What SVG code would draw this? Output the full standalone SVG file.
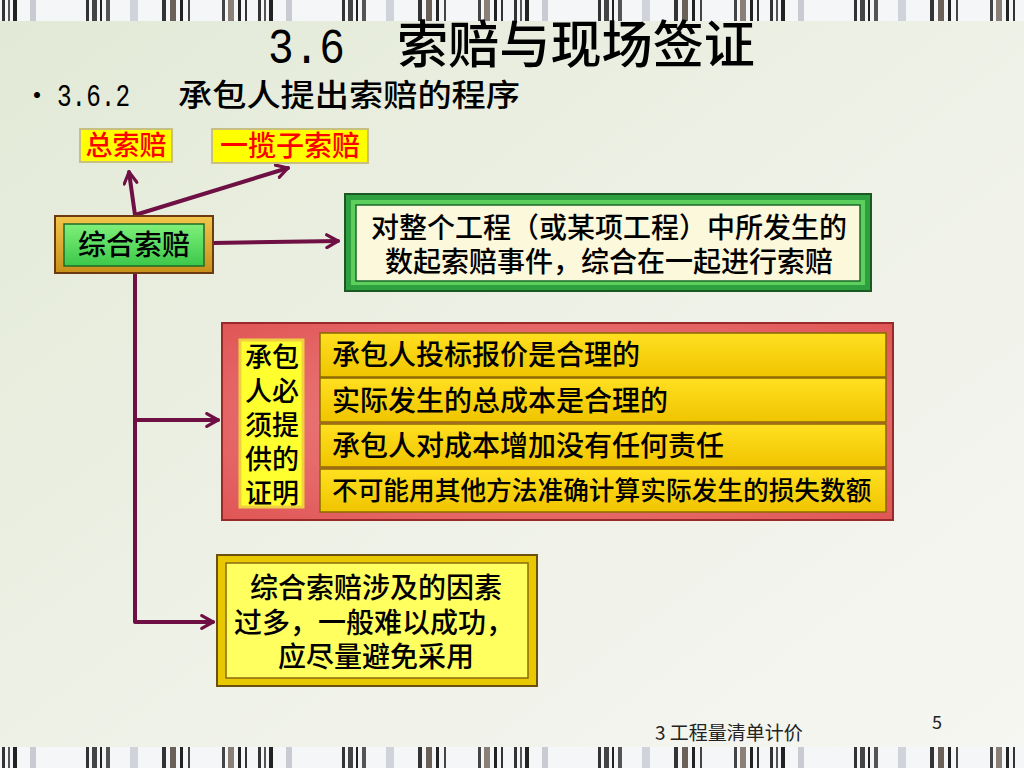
<svg xmlns="http://www.w3.org/2000/svg" width="1024" height="768" viewBox="0 0 1024 768">
<defs>
<linearGradient id="bg" x1="0" y1="0" x2="1" y2="1">
<stop offset="0" stop-color="#e2e9d6"/>
<stop offset="0.5" stop-color="#eef1e6"/>
<stop offset="1" stop-color="#f6f6f2"/>
</linearGradient>
<pattern id="bars" patternUnits="userSpaceOnUse" x="0" y="0" width="256" height="30">
<rect width="256" height="30" fill="#f4f6f8"/>
<rect x="2" width="3" height="30" fill="#333"/><rect x="8" width="2" height="30" fill="#555"/><rect x="13" width="4" height="30" fill="#222"/>
<rect x="30" width="6" height="30" fill="#c8ccd2"/>
<rect x="86" width="3" height="30" fill="#333"/><rect x="92" width="5" height="30" fill="#444"/><rect x="100" width="2" height="30" fill="#222"/><rect x="106" width="4" height="30" fill="#555"/>
<rect x="130" width="8" height="30" fill="#d0d4da"/>
<rect x="162" width="4" height="30" fill="#333"/><rect x="170" width="6" height="30" fill="#6a625a"/><rect x="180" width="3" height="30" fill="#222"/><rect x="188" width="2" height="30" fill="#444"/>
<rect x="222" width="3" height="30" fill="#444"/><rect x="228" width="6" height="30" fill="#8a8078"/><rect x="238" width="3" height="30" fill="#222"/><rect x="245" width="2" height="30" fill="#333"/>
</pattern>
<linearGradient id="gold" x1="0" y1="0" x2="0" y2="1">
<stop offset="0" stop-color="#f2c64a"/><stop offset="1" stop-color="#c8901a"/>
</linearGradient>
<linearGradient id="greenIn" x1="0" y1="0" x2="0" y2="1">
<stop offset="0" stop-color="#7ff07a"/><stop offset="1" stop-color="#3cc84a"/>
</linearGradient>
<linearGradient id="row" x1="0" y1="0" x2="0" y2="1">
<stop offset="0" stop-color="#ffe020"/><stop offset="1" stop-color="#f0c400"/>
</linearGradient>
<radialGradient id="red" cx="0.5" cy="0.5" r="0.7">
<stop offset="0" stop-color="#f08a8a"/><stop offset="1" stop-color="#e05656"/>
</radialGradient>
<marker id="ah" viewBox="0 0 10 10" refX="8" refY="5" markerWidth="4" markerHeight="4" orient="auto" markerUnits="strokeWidth">
<path d="M1,1 L8,5 L1,9" fill="none" stroke="#6e1044" stroke-width="2" stroke-linecap="round" stroke-linejoin="round"/>
</marker>
</defs>
<style>
.cjk{font-family:"Noto Sans CJK SC","Noto Sans",sans-serif;fill:#000;font-weight:500}
.lat{font-family:"Liberation Mono","Noto Sans CJK SC",monospace;fill:#000}
.foot{font-family:"Noto Sans CJK SC","Noto Sans",sans-serif;fill:#222;font-weight:400}
.red{fill:#ff0000}
.conn{fill:none;stroke:#6e1044;stroke-width:4;stroke-linecap:round;stroke-linejoin:round}
</style>
<rect width="1024" height="768" fill="url(#bg)"/>
<rect x="0" y="0" width="1024" height="21" fill="url(#bars)"/>
<rect x="0" y="747" width="1024" height="21" fill="url(#bars)"/>

<g id="title">
<text class="lat" x="268" y="63" font-size="50" textLength="77" lengthAdjust="spacingAndGlyphs">3.6</text>
<text class="cjk" x="397" y="63" font-size="51" textLength="358" lengthAdjust="spacingAndGlyphs">索赔与现场签证</text>
</g>
<g id="subtitle">
<text class="cjk" x="24" y="105" font-size="26">•</text>
<text class="lat" x="57" y="106" font-size="31" textLength="73" lengthAdjust="spacingAndGlyphs">3.6.2</text>
<text class="cjk" x="178" y="106" font-size="31" textLength="342" lengthAdjust="spacingAndGlyphs">承包人提出索赔的程序</text>
</g>

<g id="connectors">
<path class="conn" d="M135,215 L129,172" marker-end="url(#ah)"/>
<path class="conn" d="M135,215 L288,168" marker-end="url(#ah)"/>
<path class="conn" d="M213,243 L338,241" marker-end="url(#ah)"/>
<path class="conn" d="M135,273 L135,622 L213,622" marker-end="url(#ah)"/>
<path class="conn" d="M135,420 L218,420" marker-end="url(#ah)"/>
</g>

<g id="n-zong">
<rect x="80" y="129" width="92" height="33" fill="#ffff00" stroke="#c8c080" stroke-width="2"/>
<text class="cjk red" x="126" y="155" font-size="27" text-anchor="middle">总索赔</text>
</g>
<g id="n-yilanzi">
<rect x="212" y="129" width="156" height="34" fill="#ffff00" stroke="#c8c080" stroke-width="2"/>
<text class="cjk red" x="290" y="156" font-size="28" text-anchor="middle">一揽子索赔</text>
</g>

<g id="n-zonghe">
<rect x="55" y="216" width="158" height="57" fill="url(#gold)" stroke="#6b3a10" stroke-width="2"/>
<rect x="64" y="224" width="140" height="42" fill="url(#greenIn)" stroke="#1f6b2a" stroke-width="1.5"/>
<text class="cjk" x="134" y="255" font-size="28" text-anchor="middle">综合索赔</text>
</g>

<g id="n-def">
<rect x="345" y="194" width="526" height="97" fill="#2ea040" stroke="#1a5a22" stroke-width="2"/>
<rect x="351" y="200" width="514" height="85" fill="#5ccf5c"/>
<rect x="356" y="205" width="504" height="76" fill="#fcf8dc" stroke="#1a6a2a" stroke-width="1.5"/>
<text class="cjk" x="609" y="238" font-size="28" text-anchor="middle">对整个工程（或某项工程）中所发生的</text>
<text class="cjk" x="609" y="272" font-size="28" text-anchor="middle">数起索赔事件，综合在一起进行索赔</text>
</g>

<g id="n-proof">
<rect x="222" y="323" width="671" height="197" fill="url(#red)" stroke="#9a2a2a" stroke-width="2"/>
<rect x="240" y="340" width="63" height="167" fill="#ffff30" stroke="#f0d040" stroke-width="3"/>
<text class="cjk" x="272" y="367" font-size="27" text-anchor="middle">承包</text>
<text class="cjk" x="272" y="401" font-size="27" text-anchor="middle">人必</text>
<text class="cjk" x="272" y="435" font-size="27" text-anchor="middle">须提</text>
<text class="cjk" x="272" y="469" font-size="27" text-anchor="middle">供的</text>
<text class="cjk" x="272" y="503" font-size="27" text-anchor="middle">证明</text>
<rect x="320" y="333" width="566" height="44" fill="url(#row)" stroke="#8a6a00" stroke-width="1.5"/>
<rect x="320" y="378" width="566" height="44" fill="url(#row)" stroke="#8a6a00" stroke-width="1.5"/>
<rect x="320" y="424" width="566" height="43" fill="url(#row)" stroke="#8a6a00" stroke-width="1.5"/>
<rect x="320" y="469" width="566" height="43" fill="url(#row)" stroke="#8a6a00" stroke-width="1.5"/>
<text class="cjk" x="332" y="365" font-size="28">承包人投标报价是合理的</text>
<text class="cjk" x="332" y="411" font-size="28">实际发生的总成本是合理的</text>
<text class="cjk" x="332" y="456" font-size="28">承包人对成本增加没有任何责任</text>
<text class="cjk" x="332" y="500" font-size="25.7">不可能用其他方法准确计算实际发生的损失数额</text>
</g>

<g id="n-note">
<rect x="217" y="555" width="320" height="131" fill="#e8c800" stroke="#6b5010" stroke-width="2"/>
<rect x="226" y="563" width="302" height="115" fill="#ffff60" stroke="#8a6a10" stroke-width="1.5"/>
<text class="cjk" x="376" y="598" font-size="28" text-anchor="middle">综合索赔涉及的因素</text>
<text class="cjk" x="374" y="633" font-size="28" text-anchor="middle">过多，一般难以成功，</text>
<text class="cjk" x="376" y="667" font-size="28" text-anchor="middle">应尽量避免采用</text>
</g>

<g id="footer">
<text class="foot" x="655" y="740" font-size="19">3 工程量清单计价</text>
<text class="foot" x="932" y="729" font-size="18">5</text>
</g>
</svg>
